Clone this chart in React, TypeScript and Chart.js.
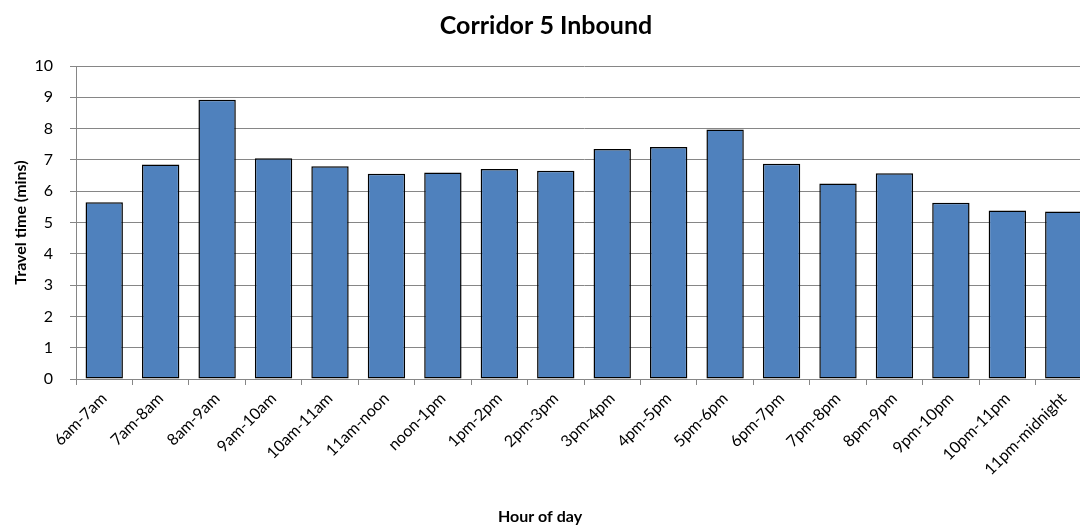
import React, { useEffect, useRef } from "react";
import { Chart, registerables } from "chart.js";

Chart.register(...registerables);

const categories: string[] = [
  "6am-7am", "7am-8am", "8am-9am", "9am-10am", "10am-11am", "11am-noon",
  "noon-1pm", "1pm-2pm", "2pm-3pm", "3pm-4pm", "4pm-5pm", "5pm-6pm",
  "6pm-7pm", "7pm-8pm", "8pm-9pm", "9pm-10pm", "10pm-11pm", "11pm-midnight",
];

const travelTimes: number[] = [
  5.65, 6.85, 8.92, 7.05, 6.8, 6.56, 6.6, 6.71, 6.65, 7.35, 7.41, 7.97,
  6.88, 6.25, 6.57, 5.63, 5.38, 5.35,
];

const yMin = 0;
const yMax = 10;
const yStep = 1;

const chartTitle = "Corridor 5 Inbound";
const xTitle = "Hour of day";
const yTitle = "Travel time (mins)";

const FONT = "Lato, 'Noto Sans', sans-serif";
const GRID = "#868686";

const xTitlePlugin = {
  id: "xTitlePlugin",
  afterDraw(chart: any) {
    const ctx = chart.ctx;
    ctx.save();
    ctx.font = `bold 16px ${FONT}`;
    ctx.fillStyle = "#000";
    ctx.textAlign = "center";
    ctx.textBaseline = "middle";
    ctx.fillText(xTitle, 540, 517);
    ctx.restore();
  },
};

export default function App() {
  const canvasRef = useRef<HTMLCanvasElement | null>(null);

  useEffect(() => {
    if (!canvasRef.current) return;
    const chart = new Chart(canvasRef.current, {
      type: "bar",
      data: {
        labels: categories,
        datasets: [
          {
            label: yTitle,
            data: travelTimes,
            backgroundColor: "#4F81BD",
            borderColor: "#000000",
            borderWidth: 1.5,
            borderSkipped: false,
            barPercentage: 0.662,
            categoryPercentage: 1,
          },
        ],
      },
      options: {
        animation: false,
        responsive: true,
        maintainAspectRatio: false,
        layout: { padding: 0 },
        plugins: {
          legend: { display: false },
          tooltip: { enabled: false },
          title: {
            display: true,
            text: chartTitle,
            color: "#000",
            font: { family: FONT, size: 25, weight: "bold", lineHeight: 1.2 },
            padding: { top: 11, bottom: 25 },
          },
        },
        scales: {
          x: {
            type: "category",
            offset: true,
            afterFit: (scale: any) => {
              scale.height = 147;
            },
            grid: {
              offset: true,
              drawOnChartArea: false,
              drawTicks: true,
              tickLength: 6,
              color: GRID,
            },
            border: { display: true, color: GRID, width: 1 },
            ticks: {
              autoSkip: false,
              maxRotation: 45,
              minRotation: 45,
              padding: 4,
              color: "#000",
              font: { family: FONT, size: 16 },
            },
          },
          y: {
            min: yMin,
            max: yMax,
            afterFit: (scale: any) => {
              scale.width = 76;
            },
            grid: {
              color: GRID,
              tickLength: 6,
              drawTicks: true,
            },
            border: { display: true, color: GRID, width: 1 },
            ticks: {
              stepSize: yStep,
              padding: 17,
              color: "#000",
              font: { family: FONT, size: 16 },
            },
            title: {
              display: true,
              text: yTitle,
              color: "#000",
              font: { family: FONT, size: 16, weight: "bold", lineHeight: 1.2 },
              padding: { top: 11, bottom: 0 },
            },
          },
        },
      },
      plugins: [xTitlePlugin],
    });
    return () => chart.destroy();
  }, []);

  return (
    <div
      style={{
        position: "fixed",
        left: 0,
        top: 0,
        width: 1080,
        height: 526,
        overflow: "hidden",
        background: "#fff",
      }}
    >
      <div style={{ position: "relative", width: 1092, height: 526 }}>
        <canvas ref={canvasRef} />
      </div>
    </div>
  );
}
